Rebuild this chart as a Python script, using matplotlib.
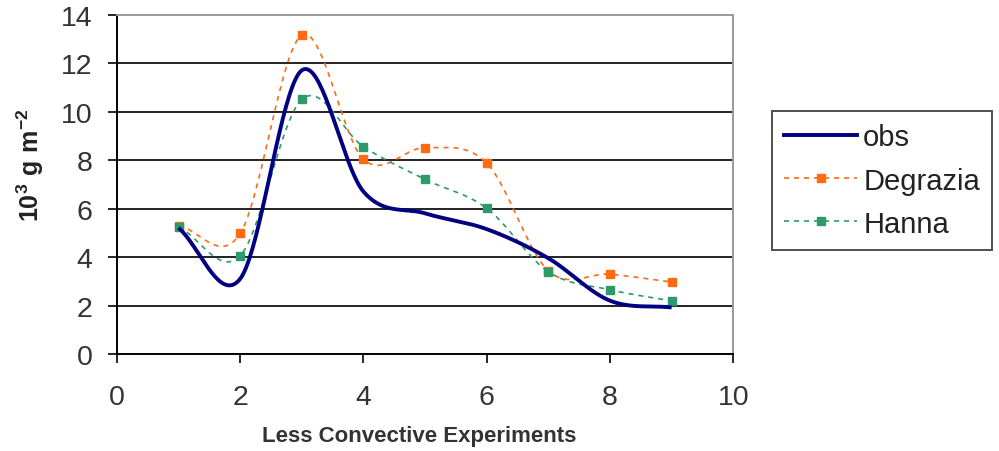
import numpy as np
import matplotlib
matplotlib.use('Agg')
import matplotlib.pyplot as plt
from matplotlib.lines import Line2D

plt.rcParams['font.family'] = ['Liberation Sans', 'DejaVu Sans']
plt.rcParams['mathtext.fontset'] = 'custom'
plt.rcParams['mathtext.rm'] = 'Liberation Sans:bold'
plt.rcParams['mathtext.bf'] = 'Liberation Sans:bold'

experiments = [1, 2, 3, 4, 5, 6, 7, 8, 9]
obs = [5.2, 3.1, 11.7, 6.7, 5.8, 5.15, 3.95, 2.2, 1.92]
degrazia = [5.28, 4.97, 13.15, 8.03, 8.51, 7.87, 3.43, 3.29, 2.97]
hanna = [5.25, 4.05, 10.5, 8.55, 7.2, 6.01, 3.39, 2.65, 2.19]

navy = '#000080'
orange = '#ff6a13'
green = '#2e9a6a'


def smooth(x, y, n=40):
    # excel-like smoothed line (catmull-rom / cubic hermite)
    x = np.asarray(x, float)
    y = np.asarray(y, float)
    m = np.empty_like(y)
    m[1:-1] = (y[2:] - y[:-2]) / (x[2:] - x[:-2])
    m[0] = (y[1] - y[0]) / (x[1] - x[0])
    m[-1] = (y[-1] - y[-2]) / (x[-1] - x[-2])
    xs, ys = [], []
    t = np.linspace(0, 1, n)
    h00 = 2*t**3 - 3*t**2 + 1
    h10 = t**3 - 2*t**2 + t
    h01 = -2*t**3 + 3*t**2
    h11 = t**3 - t**2
    for i in range(len(x) - 1):
        h = x[i+1] - x[i]
        xs.append(x[i] + t*h)
        ys.append(h00*y[i] + h10*h*m[i] + h01*y[i+1] + h11*h*m[i+1])
    return np.concatenate(xs), np.concatenate(ys)


fig = plt.figure(figsize=(9.99, 4.52), dpi=100)
ax = fig.add_axes([0.117, 0.2146, 0.617, 0.751])

for yv in range(2, 14, 2):
    ax.axhline(yv, color='#222222', lw=1.4, zorder=1)

sx, sy = smooth(experiments, obs)
ax.plot(sx, sy, color=navy, lw=2.8, zorder=4, solid_capstyle='butt')
sx, sy = smooth(experiments, degrazia)
ax.plot(sx, sy, color=orange, lw=1.2, ls=(0, (3, 3)), zorder=3)
ax.plot(experiments, degrazia, ls='none', marker='s', ms=6, color=orange, zorder=3)
sx, sy = smooth(experiments, hanna)
ax.plot(sx, sy, color=green, lw=1.2, ls=(0, (3, 3)), zorder=3)
ax.plot(experiments, hanna, ls='none', marker='s', ms=6, color=green, zorder=3)

ax.set_xlim(0, 10)
ax.set_ylim(0, 14)
ax.set_xticks(range(0, 11, 2))
ax.set_yticks(range(0, 15, 2))
ax.tick_params(labelsize=20.5, labelcolor='#333333', color='black', length=6.5, width=1.2)
ax.tick_params(axis='x', pad=15)
ax.tick_params(axis='y', pad=11)
for s in ['left', 'bottom']:
    ax.spines[s].set_color('black')
    ax.spines[s].set_linewidth(1.4)
for s in ['top', 'right']:
    ax.spines[s].set_color('#999999')
    ax.spines[s].set_linewidth(1.4)

fig.text(0.42, 1 - 437/452, 'Less Convective Experiments', fontsize=16,
         fontweight='bold', color='#333333', ha='center', va='center')
fig.text(0.03, 1 - 165/452, r'$\mathbf{10^{3}\ g\ m^{-2}}$', fontsize=18,
         color='#222222', rotation=90, ha='center', va='center')

handles = [Line2D([], [], color=navy, lw=2.8),
           Line2D([], [], color=orange, lw=1.2, ls=(0, (3, 3)), marker='s', ms=6),
           Line2D([], [], color=green, lw=1.2, ls=(0, (3, 3)), marker='s', ms=6)]
leg = fig.legend(handles, ['obs', 'Degrazia', 'Hanna'], loc='upper left',
                 bbox_to_anchor=(0.773, 0.752), borderaxespad=0, fontsize=21,
                 frameon=True, fancybox=False, edgecolor='#222222',
                 handlelength=2.5, handletextpad=0.2, borderpad=0.42,
                 labelspacing=0.52)
leg.get_frame().set_linewidth(1.4)
for t in leg.get_texts():
    t.set_color('#222222')

fig.savefig('out.png', dpi=100)
